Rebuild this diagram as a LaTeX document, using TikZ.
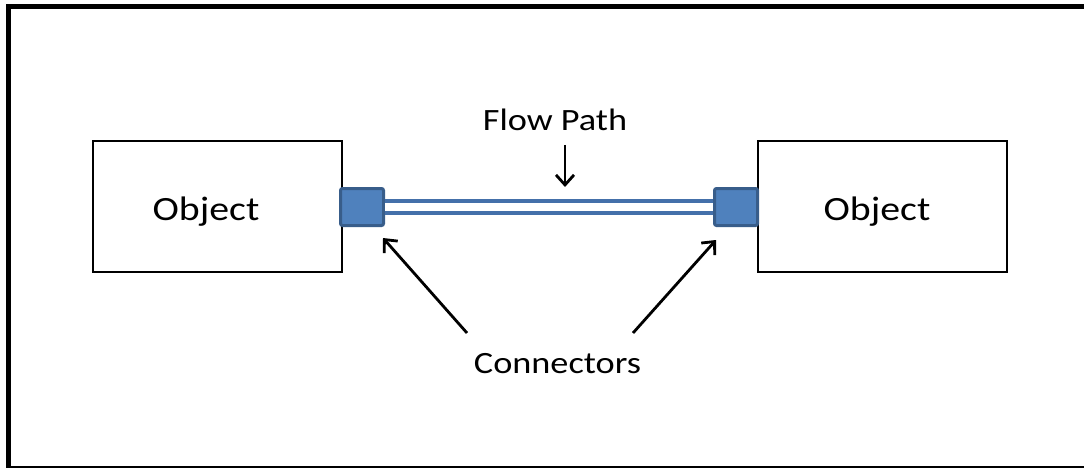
\documentclass[tikz,border=0pt]{standalone}
\usepackage{fontspec}
\usepackage{graphicx}
\setmainfont{Carlito}
\usetikzlibrary{arrows.meta}
\definecolor{connfill}{HTML}{4F81BD}
\definecolor{connedge}{HTML}{385D8A}
\definecolor{pipeblue}{HTML}{4470AA}
\newcommand{\widetxt}[1]{\scalebox{1.17}[1]{#1}}
\tikzset{
  objbox/.style={draw=black, line width=2pt, fill=white, minimum width=249pt, minimum height=131pt, inner sep=0pt},
  connbox/.style={draw=connedge, fill=connfill, line width=3pt, rounded corners=2pt, minimum width=43pt, minimum height=37pt, inner sep=0pt},
  objtext/.style={font=\fontsize{34}{40}\selectfont, anchor=base, inner sep=0pt},
  labeltext/.style={font=\fontsize{31}{36}\selectfont, anchor=base, inner sep=0pt},
  pointer/.style={draw=black, line width=2.8pt, -{Straight Barb[length=10pt, width=18pt, line width=2.8pt]}},
  pipe/.style={draw=pipeblue, line width=4pt, double=white, double distance=8pt}
}
\begin{document}
\begin{tikzpicture}[x=1pt, y=-1pt]
\useasboundingbox (0,0) rectangle (1084,468);
\begin{scope}
\clip (0,0) rectangle (1084,468);
\draw[line width=5pt] (8.5,7) -- (1200,7);
\draw[line width=5pt] (8.5,4.5) -- (8.5,468.5) -- (1200,468.5);
\end{scope}
% object boxes
\node[objbox] (lbox) at (217.5,206.5) {};
\node[objbox] (rbox) at (882,206.5) {};
\node[objtext] (lobj) at (206,220) {\widetxt{Object}};
\node[objtext] (robj) at (877,220) {\widetxt{Object}};
% connectors
\node[connbox] (lconn) at (362,207) {};
\node[connbox] (rconn) at (736,207) {};
\draw[pipe] (lconn.east) -- (rconn.west);
% labels
\node[labeltext] (flow) at (555,131) {\widetxt{Flow Path}};
\node[labeltext] (conns) at (557.5,373) {\widetxt{Connectors}};
% pointer arrows
\coordinate (flowtail) at (565,145);
\coordinate (flowhead) at (565,187);
\coordinate (ltail) at (467,333);
\coordinate (lhead) at (383,238);
\coordinate (rtail) at (633,333);
\coordinate (rhead) at (716,240);
\draw[pointer, line width=2.4pt] (flowtail) -- (flowhead);
\draw[pointer] (ltail) -- (lhead);
\draw[pointer] (rtail) -- (rhead);
\end{tikzpicture}
\end{document}
